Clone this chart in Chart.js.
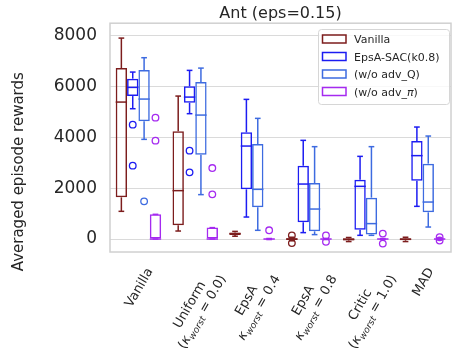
<!DOCTYPE html>
<html>
<head>
<meta charset="utf-8">
<script src="https://cdn.jsdelivr.net/npm/chart.js@4.4.0/dist/chart.umd.min.js"></script>
<style>
  html, body { margin: 0; padding: 0; background: #ffffff; }
  #wrap { width: 453px; height: 350px; position: relative; }
</style>
</head>
<body>
<div id="wrap"><canvas id="c" width="453" height="350"></canvas></div>
<script>
// ---- data ----------------------------------------------------------------
const categories = ['Vanilla', 'Uniform', 'EpsA 0.4', 'EpsA 0.8', 'Critic', 'MAD'];

// tick label lines, each line a list of [text, style] runs
// style: n = normal, i = italic, s = italic subscript
const tickLabels = [
  [[['Vanilla', 'n']]],
  [[['Uniform', 'n']], [['(', 'n'], ['κ', 'i'], ['worst', 's'], [' = 0.0)', 'n']]],
  [[['EpsA', 'n']], [['κ', 'i'], ['worst', 's'], [' = 0.4', 'n']]],
  [[['EpsA', 'n']], [['κ', 'i'], ['worst', 's'], [' = 0.8', 'n']]],
  [[['Critic', 'n']], [['(', 'n'], ['κ', 'i'], ['worst', 's'], [' = 1.0)', 'n']]],
  [[['MAD', 'n']]]
];

const yTicks = [0, 2000, 4000, 6000, 8000];

// five-number summaries per category: [low whisker, Q1, median, Q3, high whisker]
const vanillaStats = [
  [1088, 1638, 5381, 6716, 7895],
  [314, 538, 1901, 4230, 5617],
  [110, 160, 210, 260, 300],
  [-70, -35, 0, 35, 70],
  [-100, -55, -15, 30, 60],
  [-100, -50, -10, 30, 70]
];
const vanillaOutliers = [[], [], [], [140, -160], [], []];

const epsaStats = [
  [5120, 5617, 5958, 6300, 6560],
  [4925, 5357, 5577, 5998, 6626],
  [864, 1952, 3653, 4191, 5487],
  [251, 656, 2160, 2883, 3877],
  [145, 369, 2070, 2333, 3248],
  [1284, 2294, 3276, 3849, 4400]
];
const epsaOutliers = [[4493, 2883], [3472, 2620], [], [], [], []];

const noAdvQStats = [
  [3916, 4623, 5499, 6638, 7124],
  [1744, 3315, 4870, 6167, 6716],
  [342, 1245, 1952, 3731, 4741],
  [173, 302, 1178, 2200, 3629],
  [145, 173, 605, 1626, 3629],
  [471, 1049, 1453, 2962, 4046]
];
const noAdvQOutliers = [[1481], [], [], [], [], []];

const noAdvPiStats = [
  [0, 0, 0, 970, 970],
  [0, 0, 0, 448, 448],
  [-20, -10, 0, 10, 20],
  [-20, -10, 0, 10, 20],
  [-20, -10, 0, 10, 20],
  [-20, -10, 0, 10, 20]
];
const noAdvPiOutliers = [[4768, 3865], [2789, 1756], [342], [140, -110], [212, -180], [70, -60]];

const seriesLabels = ['Vanilla', 'EpsA-SAC(k0.8)', '(w/o adv_Q)', '(w/o adv_π)'];
// legend text runs (π drawn in italic)
const legendRuns = [
  [['Vanilla', 'n']],
  [['EpsA-SAC(k0.8)', 'n']],
  [['(w/o adv_Q)', 'n']],
  [['(w/o adv_', 'n'], ['π', 'i'], [')', 'n']]
];
const seriesColors = ['#7c1d1d', '#1c1cf2', '#3d6be0', '#a52af0'];

// ---- helpers ---------------------------------------------------------------
const FONT = "'DejaVu Sans', 'Liberation Sans', sans-serif";
const TEXT = '#262626';

function runFont(style, size) {
  if (style === 'i') return `italic ${size}px ${FONT}`;
  if (style === 's') return `italic ${(size * 0.7).toFixed(2)}px ${FONT}`;
  return `${size}px ${FONT}`;
}
function runsWidth(ctx, runs, size) {
  let w = 0;
  runs.forEach(([t, st]) => { ctx.font = runFont(st, size); w += ctx.measureText(t).width; });
  return w;
}
function drawRuns(ctx, runs, x, baseline, size) {
  let cx = x;
  runs.forEach(([t, st]) => {
    ctx.font = runFont(st, size);
    const dy = st === 's' ? size * 0.22 : 0;
    ctx.fillText(t, cx, baseline + dy);
    cx += ctx.measureText(t).width;
  });
}

// ---- box plot details: whiskers, caps, medians, fliers ----------------------
const boxPlotParts = {
  id: 'boxPlotParts',
  afterDatasetsDraw(chart) {
    const ctx = chart.ctx;
    const y = chart.scales.y;
    const py = v => y.getPixelForValue(v);
    ctx.save();
    chart.data.datasets.forEach((ds, di) => {
      const meta = chart.getDatasetMeta(di);
      meta.data.forEach((bar, i) => {
        const { x, width } = bar.getProps(['x', 'width'], true);
        const st = ds.stats[i];
        ctx.strokeStyle = ds.borderColor;
        ctx.lineWidth = 1.5;
        ctx.lineCap = 'butt';
        const seg = (x1, y1, x2, y2) => { ctx.beginPath(); ctx.moveTo(x1, y1); ctx.lineTo(x2, y2); ctx.stroke(); };
        seg(x, py(st[3]), x, py(st[4]));
        seg(x, py(st[1]), x, py(st[0]));
        seg(x - width / 4, py(st[4]), x + width / 4, py(st[4]));
        seg(x - width / 4, py(st[0]), x + width / 4, py(st[0]));
        seg(x - width / 2, py(st[2]), x + width / 2, py(st[2]));
        ctx.lineWidth = 1.3;
        ds.outliers[i].forEach(v => {
          ctx.beginPath();
          ctx.arc(x, py(v), 3.3, 0, Math.PI * 2);
          ctx.stroke();
        });
      });
    });
    ctx.restore();
  }
};

// ---- frame, title, axis label, category labels, legend ---------------------
const decorations = {
  id: 'decorations',
  beforeDatasetsDraw(chart) {
    const { ctx, chartArea: a } = chart;
    ctx.save();
    ctx.strokeStyle = '#d0d0d0';
    ctx.lineWidth = 1.5;
    ctx.strokeRect(a.left, a.top, a.right - a.left, a.bottom - a.top);
    ctx.restore();
  },
  afterDraw(chart) {
    const { ctx, chartArea: a } = chart;
    const xs = chart.scales.x;
    ctx.save();
    ctx.fillStyle = TEXT;

    // title
    ctx.font = `16px ${FONT}`;
    ctx.textAlign = 'center';
    ctx.textBaseline = 'alphabetic';
    ctx.fillText('Ant (eps=0.15)', (a.left + a.right) / 2, 17.5);

    // y-axis label
    ctx.save();
    ctx.translate(22.5, 171.7);
    ctx.rotate(-Math.PI / 2);
    ctx.font = `15px ${FONT}`;
    ctx.textAlign = 'center';
    ctx.fillText('Averaged episode rewards', 0, 0);
    ctx.restore();

    // rotated category labels
    const size = 13, lh = 14.5, ang = Math.PI / 3, top = a.bottom + 13;
    ctx.textAlign = 'left';
    tickLabels.forEach((lines, i) => {
      const tx = xs.getPixelForValue(i);
      const widths = lines.map(r => runsWidth(ctx, r, size));
      const W = Math.max(...widths);
      const H = lines.length * lh;
      const bh = W * Math.sin(ang) + H * Math.cos(ang);
      ctx.save();
      ctx.translate(tx, top + bh / 2);
      ctx.rotate(-ang);
      lines.forEach((runs, li) => {
        const cy = -H / 2 + lh * (li + 0.5);
        drawRuns(ctx, runs, -widths[li] / 2, cy + 0.346 * size, size);
      });
      ctx.restore();
    });

    // legend
    const lx = 318.5, ly = 29.5, lw = 131, lhgt = 75;
    ctx.beginPath();
    ctx.roundRect(lx, ly, lw, lhgt, 3);
    ctx.fillStyle = 'rgba(255,255,255,0.8)';
    ctx.fill();
    ctx.strokeStyle = '#d6d6d6';
    ctx.lineWidth = 1;
    ctx.stroke();
    const rows = [39, 56.5, 74, 91.5];
    chart.data.datasets.forEach((ds, di) => {
      const ry = rows[di];
      ctx.strokeStyle = ds.borderColor;
      ctx.lineWidth = 1.5;
      ctx.strokeRect(322.5, ry - 4, 23.5, 8);
      ctx.fillStyle = TEXT;
      drawRuns(ctx, legendRuns[di], 354, ry + 4, 11);
    });
    ctx.restore();
  }
};

// ---- chart -------------------------------------------------------------------
const seriesStats = [vanillaStats, epsaStats, noAdvQStats, noAdvPiStats];
const seriesOutliers = [vanillaOutliers, epsaOutliers, noAdvQOutliers, noAdvPiOutliers];

const datasets = seriesLabels.map((label, k) => ({
  label,
  data: seriesStats[k].map(s => [s[1], s[3]]),
  stats: seriesStats[k],
  outliers: seriesOutliers[k],
  borderColor: seriesColors[k],
  backgroundColor: 'rgba(255,255,255,0)',
  borderWidth: 1.5,
  borderSkipped: false,
  categoryPercentage: 0.8,
  barPercentage: 1.0
}));

new Chart(document.getElementById('c'), {
  type: 'bar',
  data: { labels: categories, datasets },
  options: {
    responsive: false,
    animation: false,
    devicePixelRatio: 1,
    layout: { padding: { top: 23, right: 2, left: 0, bottom: 0 } },
    plugins: { legend: { display: false }, tooltip: { enabled: false }, title: { display: false } },
    scales: {
      x: {
        type: 'category',
        grid: { display: false },
        border: { display: false },
        ticks: { display: false },
        afterFit: s => { s.height = 98; }
      },
      y: {
        min: -510,
        max: 8480,
        afterBuildTicks: s => { s.ticks = yTicks.map(v => ({ value: v })); },
        grid: { color: '#dadada', lineWidth: 1, drawTicks: false },
        border: { display: false },
        ticks: {
          padding: 13,
          color: TEXT,
          font: { family: FONT, size: 17 },
          callback: v => String(v)
        },
        afterFit: s => { s.width = 110; }
      }
    }
  },
  plugins: [boxPlotParts, decorations]
});
</script>
</body>
</html>
